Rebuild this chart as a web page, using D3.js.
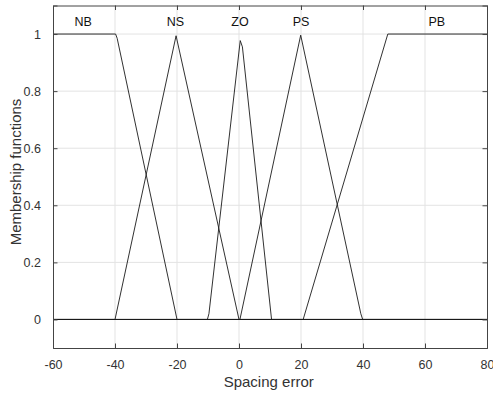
<!DOCTYPE html>
<html>
<head>
<meta charset="utf-8">
<script src="https://cdn.jsdelivr.net/npm/d3@7"></script>
<style>
  html, body { margin: 0; padding: 0; background: #fff; }
  svg { display: block; font-family: "Liberation Sans", Arial, sans-serif; }
</style>
</head>
<body>
<svg id="chart" width="493" height="396"></svg>
<script>
// Fuzzy set names and where their labels sit on the x axis
const setNames = ["NB", "NS", "ZO", "PS", "PB"];
const labelX = [-50.3, -20.5, 0.3, 20, 63.8];

// Breakpoints of each membership function (x, then μ)
const nbX = [-60, -39.8, -39.3, -20, 80];
const nbY = [1, 1, 0.985, 0, 0];
const nsX = [-60, -40, -20.3, 0, 80];
const nsY = [0, 0, 0.994, 0, 0];
const zoX = [-60, -10.2, -9.7, 0.4, 1.1, 10.5, 80];
const zoY = [0, 0, 0.02, 0.977, 0.955, 0, 0];
const psX = [-60, 0.3, 19.9, 39.3, 39.9, 80];
const psY = [0, 0, 0.996, 0.02, 0, 0];
const pbX = [-60, 20.7, 48, 80];
const pbY = [0, 0, 1, 1];

const xTicks = [-60, -40, -20, 0, 20, 40, 60, 80];
const yTicks = [0, 0.2, 0.4, 0.6, 0.8, 1];
const xDomain = [-60, 80];
const yDomain = [-0.1, 1.1];

const curvesX = [nbX, nsX, zoX, psX, pbX];
const curvesY = [nbY, nsY, zoY, psY, pbY];

const W = 493, H = 396;
const m = { left: 53, right: 6, top: 5.5, bottom: 48 };
const iw = W - m.left - m.right, ih = H - m.top - m.bottom;

const svg = d3.select("#chart");
const g = svg.append("g").attr("transform", `translate(${m.left},${m.top})`);

const x = d3.scaleLinear().domain(xDomain).range([0, iw]);
const y = d3.scaleLinear().domain(yDomain).range([ih, 0]);

// grid
g.append("g").selectAll("line").data(xTicks.slice(1, -1)).join("line")
  .attr("x1", d => x(d)).attr("x2", d => x(d)).attr("y1", 0).attr("y2", ih)
  .attr("stroke", "#e3e3e3").attr("stroke-width", 1);
g.append("g").selectAll("line").data(yTicks).join("line")
  .attr("y1", d => y(d)).attr("y2", d => y(d)).attr("x1", 0).attr("x2", iw)
  .attr("stroke", "#e3e3e3").attr("stroke-width", 1);

// membership curves
const line = d3.line().x(d => x(d[0])).y(d => y(d[1]));
curvesX.forEach((xs, i) => {
  const pts = xs.map((v, j) => [v, curvesY[i][j]]);
  g.append("path").attr("d", line(pts))
    .attr("fill", "none").attr("stroke", "#1a1a1a").attr("stroke-width", 0.9);
});

// set labels
g.append("g").selectAll("text").data(setNames).join("text")
  .attr("x", (d, i) => x(labelX[i])).attr("y", 20)
  .attr("text-anchor", "middle").attr("font-size", 12.5).attr("fill", "#111")
  .text(d => d);

// axes (inward ticks on all four sides, box style)
const axColor = "#444";
const tickLen = 4.5;
const fmt = d => String(+d.toFixed(2)).replace("\u2212", "-");

const xb = g.append("g").attr("transform", `translate(0,${ih})`)
  .call(d3.axisBottom(x).tickValues(xTicks).tickSize(-tickLen).tickPadding(12).tickFormat(fmt));
const xt = g.append("g")
  .call(d3.axisTop(x).tickValues(xTicks).tickSize(-tickLen).tickFormat(""));
const yl = g.append("g")
  .call(d3.axisLeft(y).tickValues(yTicks).tickSize(-tickLen).tickPadding(12).tickFormat(fmt));
const yr = g.append("g").attr("transform", `translate(${iw},0)`)
  .call(d3.axisRight(y).tickValues(yTicks).tickSize(-tickLen).tickFormat(""));

[xb, xt, yl, yr].forEach(a => {
  a.select(".domain").attr("stroke", axColor).attr("stroke-width", 1);
  a.selectAll(".tick line").attr("stroke", axColor).attr("stroke-width", 1);
  a.selectAll(".tick text").attr("font-size", 12.5).attr("fill", "#333")
    .attr("font-family", "Liberation Sans, Arial, sans-serif");
});

// axis titles
svg.append("text").attr("x", 268.7).attr("y", 387)
  .attr("text-anchor", "middle").attr("font-size", 15).attr("fill", "#333")
  .text("Spacing error");
svg.append("text")
  .attr("transform", "translate(21,172) rotate(-90)")
  .attr("text-anchor", "middle").attr("font-size", 15).attr("fill", "#333")
  .text("Membership functions");
</script>
</body>
</html>
